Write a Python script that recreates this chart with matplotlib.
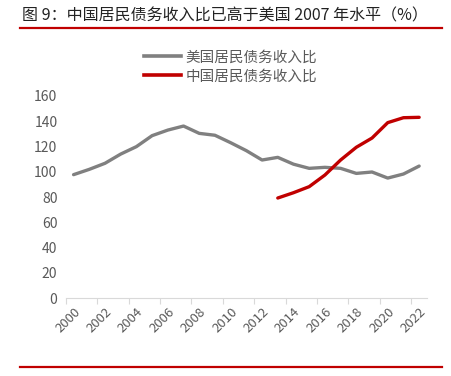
import matplotlib
matplotlib.use("Agg")
import matplotlib.pyplot as plt
from matplotlib.lines import Line2D

plt.rcParams['font.family'] = ['Noto Sans CJK SC', 'DejaVu Sans']

years = list(range(2000, 2023))
us_ratio = [97.7, 101.9, 106.7, 114.0, 119.9, 128.6, 133.0, 136.2, 130.4, 128.9,
            123.0, 116.7, 109.3, 111.4, 106.0, 102.7, 103.5, 102.7, 98.7, 99.8,
            95.0, 98.2, 104.5]
cn_years = list(range(2013, 2023))
cn_ratio = [79.2, 83.4, 88.2, 97.4, 109.3, 119.4, 126.7, 138.9, 142.8, 143.1]
label_us = "美国居民债务收入比"
label_cn = "中国居民债务收入比"
title = "图 9：中国居民债务收入比已高于美国 2007 年水平（%）"

fig = plt.figure(figsize=(4.52, 3.76), dpi=100)
ax = fig.add_axes([0.1454, 0.2074, 0.7993, 0.5373])

gray = '#808080'
red = '#C00000'
ax.plot(years, us_ratio, color=gray, lw=2.4, solid_capstyle='round', label=label_us)
ax.plot(cn_years, cn_ratio, color=red, lw=2.4, solid_capstyle='round', label=label_cn)

ax.set_xlim(1999.5, 2022.5)
ax.set_ylim(0, 160)
ax.set_yticks(range(0, 161, 20))
ax.set_xticks([y - 0.5 for y in years[::2]])
ax.set_xticklabels([])
ax.set_xticks(years[::2], minor=True)
ax.set_xticklabels([str(y) for y in years[::2]], minor=True, rotation=45,
                   ha='right', va='top', rotation_mode='anchor')
ax.tick_params(axis='x', which='minor', length=0, pad=5, labelsize=9.5, labelcolor='#595959')
ax.tick_params(axis='x', which='major', length=4, color='#D9D9D9', width=0.8)
ax.tick_params(axis='y', length=0, labelsize=10, labelcolor='#595959', pad=6)
for s in ['top', 'right', 'left']:
    ax.spines[s].set_visible(False)
ax.spines['bottom'].set_color('#D9D9D9')
ax.spines['bottom'].set_linewidth(0.8)

leg = fig.legend(handles=[Line2D([], [], color=gray, lw=2.6), Line2D([], [], color=red, lw=2.6)],
                 labels=[label_us, label_cn], loc='center', bbox_to_anchor=(0.51, 0.822),
                 frameon=False, fontsize=10.5, handlelength=2.5, handletextpad=0.3,
                 labelspacing=0.35, labelcolor='#595959')

fig.text(0.049, 0.958, title, fontsize=11.5, color='#222222', ha='left', va='center')
fig.add_artist(Line2D([0.044, 0.978], [0.925, 0.925], color=red, lw=1.6, transform=fig.transFigure))
fig.add_artist(Line2D([0.044, 0.978], [0.024, 0.024], color=red, lw=1.6, transform=fig.transFigure))

fig.savefig("out.png", dpi=100)
